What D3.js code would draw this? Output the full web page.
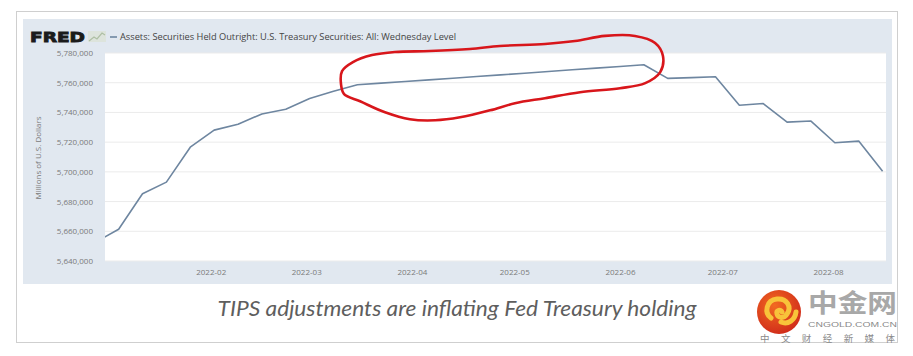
<!DOCTYPE html>
<html><head><meta charset="utf-8">
<script src="https://cdn.jsdelivr.net/npm/d3@7"></script>
<style>
html,body{margin:0;padding:0;background:#fff;}
svg{display:block;}
</style></head>
<body>
<script>
// ---- data ----
const dates = ["2021-12-29","2022-01-05","2022-01-12","2022-01-19","2022-01-26","2022-02-02","2022-02-09","2022-02-16","2022-02-23","2022-03-02","2022-03-09","2022-03-16","2022-03-23","2022-03-30","2022-04-06","2022-04-13","2022-04-20","2022-04-27","2022-05-04","2022-05-11","2022-05-18","2022-05-25","2022-06-01","2022-06-08","2022-06-15","2022-06-22","2022-06-29","2022-07-06","2022-07-13","2022-07-20","2022-07-27","2022-08-03","2022-08-10","2022-08-17"];
const values = [5652300,5661400,5685300,5693100,5716600,5728100,5732000,5739000,5742100,5749400,5754300,5758600,5759700,5760800,5761900,5763000,5764200,5765300,5766400,5767600,5768700,5769800,5770900,5772100,5762900,5763400,5764000,5744800,5746000,5733500,5734200,5719600,5720700,5700400];
const yTicks = [5640000,5660000,5680000,5700000,5720000,5740000,5760000,5780000];
const xTickLabels = ["2022-02","2022-03","2022-04","2022-05","2022-06","2022-07","2022-08"];
const xDomain = ["2022-01-01","2022-08-18"];
const seriesTitle = "Assets: Securities Held Outright: U.S. Treasury Securities: All: Wednesday Level";
const yAxisTitle = "Millions of U.S. Dollars";
const caption = "TIPS adjustments are inflating Fed Treasury holding";
// hand-drawn red loop annotation, in data units: [days after 2022-01-01, value]
const loopDays = [69.5,72.7,78.3,85.0,95.3,107,115.8,129,137.8,146.6,155.4,161.3,163.6,162.8,158.4,151,139.3,129,120.2,112.9,104.1,96.8,89.4,82.1,74.8,70.1,69.2];
const loopVals = [5767800,5773900,5778600,5780700,5781300,5782700,5784700,5786100,5788100,5791500,5791500,5786800,5778000,5767100,5759700,5756300,5753600,5749600,5746200,5741400,5736700,5734700,5735400,5740100,5747500,5752300,5759000];

// ---- layout ----
const W = 913, H = 356;
const plot = {l:105, r:886, t:53, b:261};
const parse = d3.utcParse("%Y-%m-%d");
const parseM = d3.utcParse("%Y-%m");

const svg = d3.select("body").append("svg").attr("width", W).attr("height", H);

// outer frame
svg.append("rect").attr("x",16.5).attr("y",11.5).attr("width",881).attr("height",331)
  .attr("fill","#fff").attr("stroke","#cfcfcf").attr("stroke-width",1);
// FRED panel background
svg.append("rect").attr("x",23).attr("y",19).attr("width",869).attr("height",265).attr("fill","#e1e8f0");
// plot background
svg.append("rect").attr("x",plot.l).attr("y",plot.t).attr("width",plot.r-plot.l).attr("height",plot.b-plot.t).attr("fill","#fff");

const x = d3.scaleUtc().domain(xDomain.map(parse)).range([plot.l, plot.r]);
const y = d3.scaleLinear().domain([5640000,5780000]).range([plot.b, plot.t]);

// gridlines
svg.append("g").selectAll("line").data(yTicks).join("line")
  .attr("x1",plot.l).attr("x2",plot.r).attr("y1",d=>y(d)).attr("y2",d=>y(d))
  .attr("stroke","#ebebeb").attr("stroke-width",1);

// y axis
const yAxis = d3.axisLeft(y).tickValues(yTicks).tickFormat(d3.format(",")).tickSize(0).tickPadding(12);
const gy = svg.append("g").attr("transform",`translate(${plot.l},0)`).call(yAxis);
gy.select(".domain").remove();
gy.selectAll("text").attr("font-family","'Open Sans', sans-serif").attr("font-size","8px").attr("fill","#7a7a7a");

// x axis
const xAxis = d3.axisBottom(x).tickValues(xTickLabels.map(parseM)).tickFormat(d3.utcFormat("%Y-%m")).tickSize(0).tickPadding(8);
const gx = svg.append("g").attr("transform",`translate(0,${plot.b})`).call(xAxis);
gx.select(".domain").remove();
gx.selectAll("text").attr("font-family","'Open Sans', sans-serif").attr("font-size","8px").attr("fill","#7a7a7a");

// y axis title
svg.append("text").attr("transform","translate(41,158) rotate(-90)").attr("text-anchor","middle")
  .attr("font-family","'Open Sans', sans-serif").attr("font-size","8px").attr("fill","#7a7a7a").text(yAxisTitle);

// series line (clipped to the plot)
svg.append("clipPath").attr("id","clip").append("rect")
  .attr("x",plot.l).attr("y",plot.t-5).attr("width",plot.r-plot.l).attr("height",plot.b-plot.t+10);
const data = dates.map((d,i)=>({d:parse(d), v:values[i]}));
svg.append("path").datum(data).attr("clip-path","url(#clip)")
  .attr("fill","none").attr("stroke","#6e86a0").attr("stroke-width",1.6).attr("stroke-linejoin","round")
  .attr("d", d3.line().x(p=>x(p.d)).y(p=>y(p.v)));

// FRED logo + legend
svg.append("text").attr("x",30).attr("y",42).attr("font-family","'DejaVu Sans', sans-serif")
  .attr("font-weight","bold").attr("font-size","14.5px").attr("fill","#1b1b1b")
  .attr("stroke","#1b1b1b").attr("stroke-width",0.9)
  .attr("textLength",55).attr("lengthAdjust","spacingAndGlyphs").text("FRED");
const icon = svg.append("g").attr("transform","translate(88,31)");
icon.append("rect").attr("x",0).attr("y",0).attr("width",18).attr("height",11).attr("fill","#dde4dc");
icon.append("path").attr("d","M1,10 L6,6 L9,8 L14,2 L17,4").attr("fill","none").attr("stroke","#aebfa4").attr("stroke-width",1.2);
svg.append("line").attr("x1",110).attr("x2",117).attr("y1",37).attr("y2",37).attr("stroke","#6e86a0").attr("stroke-width",1.6);
svg.append("text").attr("x",120).attr("y",40).attr("font-family","'Open Sans', sans-serif").attr("font-size","8.5px")
  .attr("fill","#444").attr("textLength",336).attr("lengthAdjust","spacingAndGlyphs").text(seriesTitle);

// red hand-drawn loop
const t0 = +parse("2022-01-01");
const loop = loopDays.map((d,i)=>[x(new Date(t0 + d*864e5)), y(loopVals[i])]);
svg.append("path").attr("d", d3.line().curve(d3.curveCatmullRomClosed.alpha(0.5))(loop))
  .attr("fill","none").attr("stroke","#d8161b").attr("stroke-width",2.6).attr("stroke-linejoin","round");

// caption
svg.append("text").attr("x",457).attr("y",316).attr("text-anchor","middle")
  .attr("font-family","Lato, 'Open Sans', sans-serif").attr("font-style","italic").attr("font-size","22px")
  .attr("fill","#5e5e5e").attr("textLength",479).attr("lengthAdjust","spacingAndGlyphs").text(caption);

// watermark logo
const defs = svg.append("defs");
const rg = defs.append("radialGradient").attr("id","lg").attr("cx","40%").attr("cy","35%").attr("r","70%");
rg.append("stop").attr("offset","0%").attr("stop-color","#f26a21");
rg.append("stop").attr("offset","100%").attr("stop-color","#cf2a1a");
svg.append("circle").attr("cx",779).attr("cy",312).attr("r",22).attr("fill","url(#lg)");
svg.append("path").attr("d","M771,318 C764,313 766,300 777,299 C787,298 792,307 787,314 C784,319 778,318 777,314 C776,310 781,309 782,312 M781,322 C788,325 795,320 796,312")
  .attr("fill","none").attr("stroke","#f8c33a").attr("stroke-width",5).attr("stroke-linecap","round");
svg.append("text").attr("x",808).attr("y",312).attr("font-family","'Noto Sans CJK SC', sans-serif").attr("font-weight","bold")
  .attr("font-size","25px").attr("fill","#a8a8a8").attr("textLength",89).attr("lengthAdjust","spacingAndGlyphs").text("中金网");
svg.append("text").attr("x",808).attr("y",327).attr("font-family","'Liberation Sans', Arial, sans-serif")
  .attr("font-size","8px").attr("fill","#8a8a8a").attr("textLength",89).attr("lengthAdjust","spacingAndGlyphs").text("CNGOLD.COM.CN");
svg.append("text").attr("x",760).attr("y",342).attr("font-family","'Noto Sans CJK SC', sans-serif")
  .attr("font-size","9.5px").attr("fill","#8a8a8a").attr("textLength",135).attr("lengthAdjust","spacing").text("中文财经新媒体");
</script>
</body></html>
